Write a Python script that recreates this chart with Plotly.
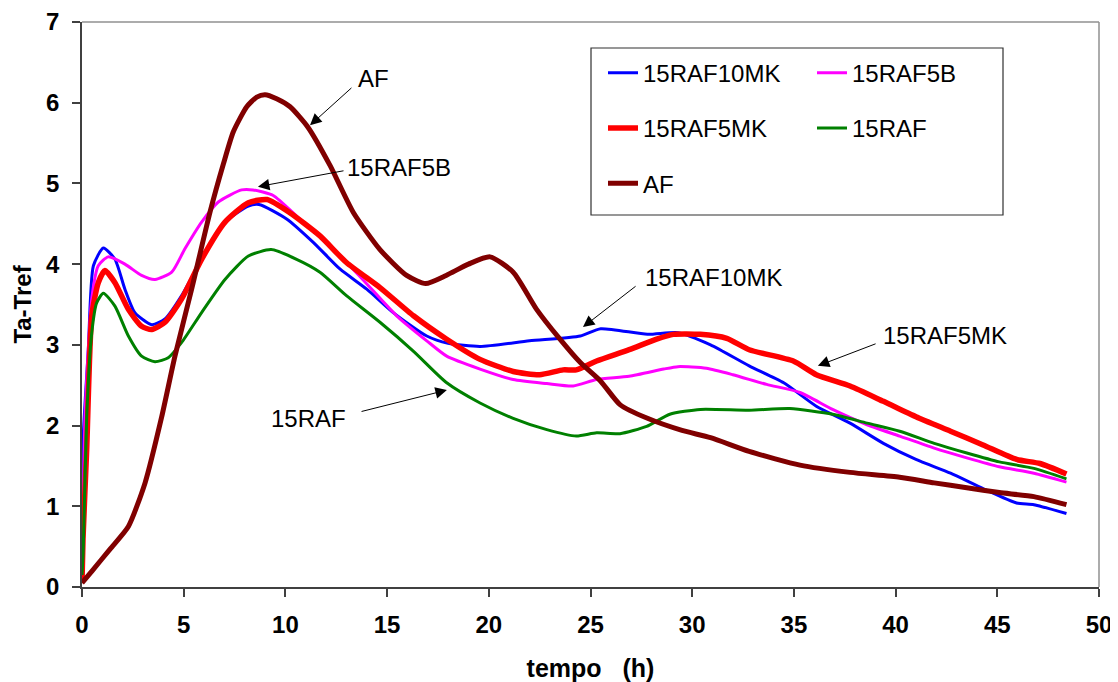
import plotly.graph_objects as go

# ---- data ----
series_names = ["15RAF10MK", "15RAF5B", "15RAF5MK", "15RAF", "AF"]

t_15RAF10MK = [0, 0.05, 0.31, 0.56, 1.05, 1.62, 2.11, 2.6, 3.43, 4.08, 4.9, 5.88, 7.03, 8.18, 8.7,
               10.06, 11.37, 12.68, 14.0, 15.3, 16.95, 18.0, 19.57, 22.0, 24.5, 25.5, 27.8, 29.3,
               30.9, 32.8, 34.5, 36.1, 37.76, 39.4, 41.0, 42.7, 44.3, 45.95, 46.8, 48.4]
v_15RAF10MK = [0.1, 1.8, 2.94, 3.98, 4.2, 4.06, 3.69, 3.4, 3.25, 3.32, 3.61, 4.06, 4.52, 4.72, 4.74,
               4.56, 4.27, 3.94, 3.69, 3.40, 3.11, 3.02, 2.98, 3.05, 3.11, 3.2, 3.13, 3.15,
               3.0, 2.74, 2.53, 2.24, 2.03, 1.78, 1.58, 1.41, 1.22, 1.04, 1.02, 0.91]

t_15RAF5B = [0, 0.15, 0.48, 0.8, 1.29, 2.11, 2.93, 3.59, 4.41, 5.06, 5.88, 6.7, 7.85, 8.4, 9.4,
             10.7, 12.2, 13.8, 15.47, 16.95, 17.93, 19.57, 21.2, 22.85, 24.15, 25.3, 26.9, 28.6,
             29.3, 30.7, 32.0, 33.66, 35.3, 36.9, 38.6, 40.2, 41.9, 43.5, 45.1, 46.8, 48.4]
v_15RAF5B = [0.05, 2.11, 3.57, 3.98, 4.09, 4.0, 3.86, 3.81, 3.9, 4.19, 4.52, 4.77, 4.92, 4.92, 4.85,
             4.56, 4.23, 3.81, 3.36, 3.05, 2.86, 2.70, 2.57, 2.52, 2.49, 2.57, 2.61, 2.70,
             2.73, 2.71, 2.63, 2.51, 2.41, 2.2, 2.01, 1.87, 1.72, 1.6, 1.49, 1.41, 1.30]

t_15RAF5MK = [0, 0.05, 0.23, 0.48, 0.8, 1.13, 1.62, 2.28, 2.93, 3.43, 4.08, 4.9, 5.88, 7.03, 8.18,
              9.1, 10.2, 11.7, 13.0, 14.65, 16.3, 17.93, 19.57, 21.2, 22.5, 23.66, 24.3, 25.3,
              26.9, 28.25, 29.07, 30.4, 31.7, 32.8, 34.97, 36.1, 37.76, 39.4, 41.0, 42.7, 44.3,
              45.95, 47.1, 48.4]
v_15RAF5MK = [0.05, 0.6, 1.7, 3.36, 3.77, 3.92, 3.77, 3.44, 3.23, 3.19, 3.28, 3.57, 4.06, 4.52, 4.76,
              4.8, 4.64, 4.35, 4.02, 3.71, 3.36, 3.07, 2.82, 2.67, 2.63, 2.69, 2.69, 2.8,
              2.94, 3.07, 3.13, 3.13, 3.08, 2.94, 2.8, 2.63, 2.49, 2.3, 2.11, 1.93, 1.76,
              1.58, 1.53, 1.40]

t_15RAF = [0, 0.06, 0.23, 0.48, 0.72, 1.05, 1.62, 2.28, 2.93, 3.59, 4.24, 4.9, 5.88, 7.03, 8.18,
           9.3, 10.55, 11.7, 13.0, 14.65, 16.3, 17.93, 19.57, 21.2, 22.85, 24.3, 25.3, 26.45,
           27.76, 28.9, 30.4, 32.8, 34.8, 36.9, 38.6, 40.2, 41.9, 43.5, 45.1, 46.8, 48.4]
v_15RAF = [0.15, 0.45, 2.1, 3.15, 3.52, 3.64, 3.48, 3.11, 2.86, 2.79, 2.84, 3.03, 3.4, 3.81, 4.1,
           4.18, 4.06, 3.9, 3.61, 3.28, 2.92, 2.53, 2.28, 2.09, 1.95, 1.87, 1.91, 1.90,
           1.99, 2.14, 2.2, 2.19, 2.21, 2.14, 2.03, 1.93, 1.78, 1.66, 1.55, 1.47, 1.34]

t_AF = [0, 0.5, 1.38, 2.28, 3.1, 3.92, 4.57, 5.39, 6.3, 6.95, 7.44, 8.1, 8.59, 9.0, 9.57, 10.23,
        11.1, 12.2, 13.34, 14.65, 15.96, 16.9, 17.9, 19.0, 20.06, 21.2, 22.35, 23.5, 24.5, 25.5,
        26.45, 27.8, 29.5, 30.9, 32.8, 35.3, 37.76, 40.2, 41.9, 43.5, 45.1, 46.8, 48.4]
v_AF = [0.05, 0.2, 0.47, 0.75, 1.29, 2.11, 2.86, 3.69, 4.65, 5.24, 5.64, 5.95, 6.07, 6.1, 6.05, 5.95,
        5.70, 5.22, 4.64, 4.18, 3.86, 3.76, 3.86, 4.0, 4.09, 3.9, 3.44, 3.07, 2.78, 2.55,
        2.26, 2.09, 1.94, 1.85, 1.68, 1.51, 1.42, 1.36, 1.29, 1.23, 1.17, 1.12, 1.02]

x_ticks = [0, 5, 10, 15, 20, 25, 30, 35, 40, 45, 50]
y_ticks = [0, 1, 2, 3, 4, 5, 6, 7]

# annotation labels: (text, text_x, text_y, tail_x, tail_y, head_x, head_y)
labels = [
    ("AF", 14.31, 6.30, 13.32, 6.20, 11.21, 5.72),
    ("15RAF5B", 15.6, 5.20, 12.93, 5.16, 8.65, 4.96),
    ("15RAF10MK", 31.07, 3.84, 27.29, 3.74, 24.63, 3.22),
    ("15RAF5MK", 42.43, 3.11, 39.09, 3.02, 36.18, 2.74),
    ("15RAF", 11.16, 2.09, 13.67, 2.17, 17.94, 2.44),
]

FONT = "Liberation Sans, Arial, sans-serif"

series = [
    ("15RAF10MK", t_15RAF10MK, v_15RAF10MK, "#0000FF", 3, "legend"),
    ("15RAF5B", t_15RAF5B, v_15RAF5B, "#FF00FF", 3, "legend2"),
    ("15RAF5MK", t_15RAF5MK, v_15RAF5MK, "#FF0000", 5.5, "legend"),
    ("15RAF", t_15RAF, v_15RAF, "#008000", 3, "legend2"),
    ("AF", t_AF, v_AF, "#800000", 5, "legend"),
]

fig = go.Figure()
for name, t, v, col, w, lg in series:
    fig.add_trace(go.Scatter(
        x=t, y=v, mode="lines", name=name, legend=lg, legendgroup=name,
        line=dict(color=col, width=w, shape="spline", smoothing=0.6),
    ))

# page body adds an 8px offset; compensate so the plot area lands where the reference has it
OFF = 8
W, H = 1118 - OFF, 682 - OFF
ml, mr, mt, mb = 82 - OFF, 19, 22 - OFF, 95
pw = W - ml - mr   # 1017
ph = H - mt - mb   # 565
PB = 587           # plot bottom in reference pixels
PL = 82            # plot left in reference pixels

def px_to_paper_x(px):
    return (px - PL) / pw

def px_to_paper_y(py):
    return (PB - py) / ph

axis_common = dict(
    showgrid=False, zeroline=False, showline=True, linecolor="#404040", linewidth=1.5,
    ticks="outside", ticklen=8, tickcolor="#404040", tickwidth=1.5,
    tickfont=dict(family=FONT, size=24, color="black", weight="bold"),
    automargin=False,
)

fig.update_layout(
    width=W, height=H,
    margin=dict(l=ml, r=mr, t=mt, b=mb, autoexpand=False),
    paper_bgcolor="white", plot_bgcolor="white",
    font=dict(family=FONT, color="black"),
    xaxis=dict(range=[0, 50], tickvals=x_ticks, ticklabelstandoff=7,
               title=dict(text="tempo   (h)", font=dict(family=FONT, size=25, weight="bold"), standoff=30),
               **axis_common),
    yaxis=dict(range=[0, 7], tickvals=y_ticks, ticklabelstandoff=8,
               title=dict(text="Ta-Tref", font=dict(family=FONT, size=24, weight="bold"), standoff=8),
               **axis_common),
    legend=dict(x=px_to_paper_x(603), y=px_to_paper_y(50.7), xanchor="left", yanchor="top",
                bgcolor="rgba(0,0,0,0)", borderwidth=0, tracegroupgap=21,
                font=dict(family=FONT, size=24, color="black")),
    legend2=dict(x=px_to_paper_x(812), y=px_to_paper_y(50.7), xanchor="left", yanchor="top",
                 bgcolor="rgba(0,0,0,0)", borderwidth=0, tracegroupgap=21,
                 font=dict(family=FONT, size=24, color="black")),
    showlegend=True,
)

# top / right frame lines (lighter) and legend box
fig.add_shape(type="line", xref="paper", yref="paper", x0=0, x1=1, y0=1, y1=1,
              line=dict(color="#909090", width=1.5))
fig.add_shape(type="line", xref="paper", yref="paper", x0=1, x1=1, y0=0, y1=1,
              line=dict(color="#909090", width=1.5))
fig.add_shape(type="rect", xref="paper", yref="paper",
              x0=px_to_paper_x(591), x1=px_to_paper_x(1003),
              y0=px_to_paper_y(215), y1=px_to_paper_y(48),
              line=dict(color="#303030", width=1.2), fillcolor="rgba(0,0,0,0)")

for text, tx, ty, ax_, ay_, hx, hy in labels:
    fig.add_annotation(x=hx, y=hy, ax=ax_, ay=ay_, xref="x", yref="y", axref="x", ayref="y",
                       text="", showarrow=True, arrowhead=2, arrowsize=2.3, arrowwidth=1,
                       arrowcolor="black")
    fig.add_annotation(x=tx, y=ty, xref="x", yref="y", text=text, showarrow=False,
                       font=dict(family=FONT, size=24, color="black"))

fig.write_html("out.html")
